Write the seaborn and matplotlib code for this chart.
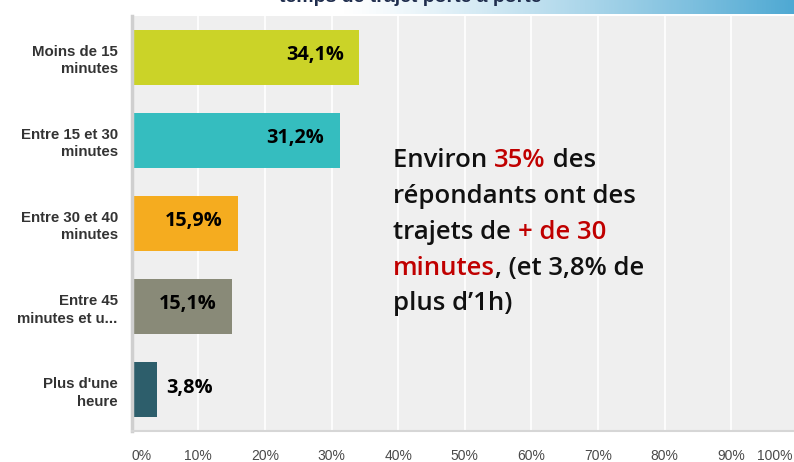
import matplotlib
matplotlib.use("Agg")
import matplotlib.pyplot as plt
import seaborn as sns
import numpy as np
import pandas as pd
from matplotlib.transforms import ScaledTranslation
from matplotlib.colors import LinearSegmentedColormap

# ---------------- data ----------------
categories = ["Moins de 15\nminutes", "Entre 15 et 30\nminutes", "Entre 30 et 40\nminutes",
              "Entre 45\nminutes et u...", "Plus d'une\nheure"]
values = [34.1, 31.2, 15.9, 15.1, 3.8]
value_labels = ["34,1%", "31,2%", "15,9%", "15,1%", "3,8%"]
bar_colors = ["#CBD328", "#35BDBF", "#F5AC1F", "#898A78", "#2D5E6B"]
tick_values = [0, 10, 20, 30, 40, 50, 60, 70, 80, 90, 100]
tick_labels = ["0%", "10%", "20%", "30%", "40%", "50%", "60%", "70%", "80%", "90%", "100%"]
title = "temps de trajet porte à porte"
note_lines = [
    [("Environ ", "black"), ("35%", "red"), (" des", "black")],
    [("répondants ont des", "black")],
    [("trajets de ", "black"), ("+ de 30", "red")],
    [("minutes", "red"), (", (et 3,8% de", "black")],
    [("plus d’1h)", "black")],
]

W, H = 794, 462
sns.set_theme(style="white")
plt.rcParams["font.family"] = ["Liberation Sans", "DejaVu Sans"]

fig = plt.figure(figsize=(W / 100, H / 100), dpi=100)
fig.patch.set_facecolor("white")

# gradient banner at the top
gax = fig.add_axes([340 / W, 1 - 14 / H, (W - 340) / W, 14 / H])
cmap = LinearSegmentedColormap.from_list("band", ["#FFFFFF", "#4FA9D3"])
grad = np.linspace(0, 1, 256) ** 1.2
gax.imshow(grad[np.newaxis, :], aspect="auto", cmap=cmap, vmin=0, vmax=1)
gax.axis("off")

fig.text(410 / W, 1 - 1.5 / H, title, ha="center", va="baseline", fontsize=14,
         fontweight="bold", color="#1F2D4D", zorder=10)

# main axes
x0, x1 = 131.7, 798.0
y0, y1 = 16.0, 431.3
ax = fig.add_axes([x0 / W, 1 - y1 / H, (x1 - x0) / W, (y1 - y0) / H])
df = pd.DataFrame({"cat": categories, "val": values})
sns.barplot(data=df, x="val", y="cat", hue="cat", palette=bar_colors, width=0.66,
            legend=False, orient="h", ax=ax, saturation=1, linewidth=0)

ax.set_facecolor("#EFEFEF")
ax.set_xlim(0, 100)
ax.set_ylim(4.5, -0.5)
ax.set_xlabel("")
ax.set_ylabel("")
ax.set_axisbelow(True)
ax.xaxis.grid(True, color="white", linewidth=1.2)
ax.yaxis.grid(False)
for s in ["top", "right"]:
    ax.spines[s].set_visible(False)
ax.spines["left"].set_color("#CFCFCF")
ax.spines["left"].set_linewidth(2.5)
ax.spines["bottom"].set_color("#D6D6D6")
ax.spines["bottom"].set_linewidth(1.5)

ax.set_xticks(tick_values)
ax.set_xticklabels(tick_labels)
ax.tick_params(axis="x", length=0, pad=13, labelsize=10, labelcolor="#4A4A4A")
ax.tick_params(axis="y", length=0, pad=10, labelsize=10.8, labelcolor="#333333")
for lab in ax.get_yticklabels():
    lab.set_fontweight("bold")
    lab.set_linespacing(1.3)
xl = ax.get_xticklabels()
xl[0].set_ha("left")
xl[-1].set_ha("right")
xl[-1].set_transform(xl[-1].get_transform() + ScaledTranslation(-6 / 100, 0, fig.dpi_scale_trans))

# value labels
for i, (v, lab) in enumerate(zip(values, value_labels)):
    if v > 8:
        ax.annotate(lab, (v, i), xytext=(-11, -2), textcoords="offset points",
                    ha="right", va="baseline", fontsize=14.3, fontweight="bold",
                    color="black", family=["Open Sans", "DejaVu Sans"])
    else:
        ax.annotate(lab, (v, i), xytext=(6.5, -2), textcoords="offset points",
                    ha="left", va="baseline", fontsize=14.3, fontweight="bold",
                    color="black", family=["Open Sans", "DejaVu Sans"])

# annotation text block (multi-colour)
renderer = fig.canvas.get_renderer()
note_font = dict(fontsize=18.5, fontweight="semibold", family=["Open Sans", "DejaVu Sans"])
color_map = {"black": "#111111", "red": "#C00000"}


def text_width(s):
    t1 = fig.text(0, 0, s + ".", **note_font)
    t2 = fig.text(0, 0, ".", **note_font)
    w = t1.get_window_extent(renderer).width - t2.get_window_extent(renderer).width
    t1.remove()
    t2.remove()
    return w


baselines = [167, 203, 239, 275, 310]
left_px = 393
for line, yb in zip(note_lines, baselines):
    prefix = ""
    for piece, col in line:
        xpos = left_px + text_width(prefix) if prefix else left_px
        fig.text(xpos / W, 1 - yb / H, piece, ha="left", va="baseline",
                 color=color_map[col], **note_font)
        prefix += piece

fig.savefig("out.png", dpi=100, facecolor="white")
